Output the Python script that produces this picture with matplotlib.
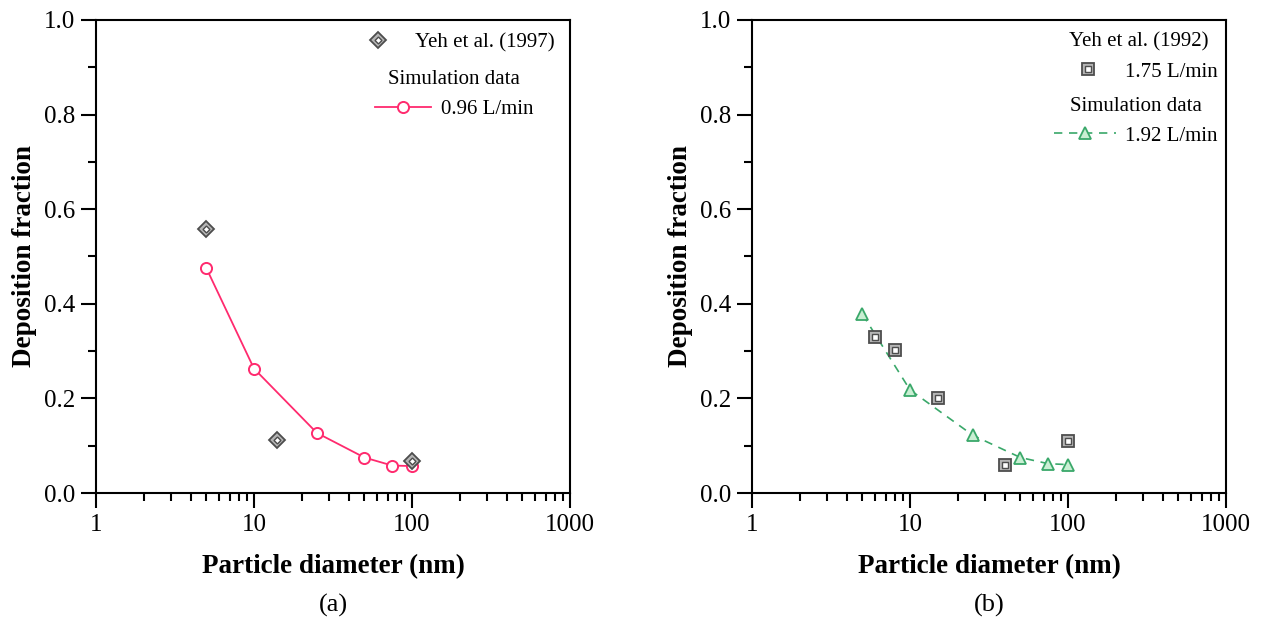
import matplotlib
matplotlib.use("Agg")
import matplotlib.pyplot as plt
from matplotlib.legend_handler import HandlerTuple
from matplotlib.ticker import MultipleLocator, LogLocator, NullFormatter, FixedLocator

plt.rcParams['font.family'] = ['Liberation Serif', 'DejaVu Serif']

# panel (a)
yeh97_d = [5, 14, 100]
yeh97_f = [0.558, 0.113, 0.068]
sim_a_d = [5, 10, 25, 50, 75, 100]
sim_a_f = [0.475, 0.263, 0.127, 0.075, 0.058, 0.057]

# panel (b)
yeh92_d = [6, 8, 15, 40, 100]
yeh92_f = [0.330, 0.303, 0.200, 0.060, 0.110]
sim_b_d = [5, 10, 25, 50, 75, 100]
sim_b_f = [0.378, 0.218, 0.122, 0.075, 0.062, 0.060]

pink = '#ff2a6e'
green = '#3aa86a'
gray = '#4d4d4d'

fig = plt.figure(figsize=(12.68, 6.26), dpi=100)
ax1 = fig.add_axes([96 / 1268, 133 / 626, 474 / 1268, 473 / 626])
ax2 = fig.add_axes([752 / 1268, 133 / 626, 474 / 1268, 473 / 626])


def double_marker(ax, x, y, m, big, small):
    outer, = ax.plot(x, y, ls='none', marker=m, ms=big, mfc='#b5b5b5',
                     mec=gray, mew=1.3, zorder=4)
    inner, = ax.plot(x, y, ls='none', marker=m, ms=small, mfc='white',
                     mec=gray, mew=1.0, zorder=5)
    return (outer, inner)


def style(ax, letter):
    ax.set_xscale('log')
    ax.set_xlim(1, 1000)
    ax.set_ylim(0, 1.0)
    ax.xaxis.set_major_locator(FixedLocator([1, 10, 100, 1000]))
    ax.set_xticklabels(['1', '10', '100', '1000'])
    ax.xaxis.set_minor_locator(LogLocator(base=10, subs=range(2, 10)))
    ax.xaxis.set_minor_formatter(NullFormatter())
    ax.yaxis.set_major_locator(MultipleLocator(0.2))
    ax.yaxis.set_minor_locator(MultipleLocator(0.1))
    ax.set_yticklabels([f'{v:.1f}' for v in ax.get_yticks()])
    ax.tick_params(which='both', direction='out', width=1.5, labelsize=18,
                   top=False, right=False, pad=4)
    ax.tick_params(which='major', length=11)
    ax.tick_params(which='minor', length=6)
    for s in ax.spines.values():
        s.set_linewidth(1.5)
    ax.set_xlabel('Particle diameter (nm)', fontsize=19.5, fontweight='bold',
                  labelpad=13)
    ax.set_ylabel('Deposition fraction', fontsize=19.5, fontweight='bold',
                  labelpad=5)
    ax.text(0.5, -0.237, letter, transform=ax.transAxes, ha='center',
            va='center', fontsize=19)


# (a)
h_yeh97 = double_marker(ax1, yeh97_d, yeh97_f, 'D', 8, 3.5)
h_sim_a, = ax1.plot(sim_a_d, sim_a_f, color=pink, lw=1.3, marker='o', ms=8,
                    mfc='white', mec=pink, mew=1.4, zorder=3)
style(ax1, '(a)')
lg1 = ax1.legend([h_yeh97], ['Yeh et al. (1997)'], loc='center right',
                 bbox_to_anchor=(0.968, 0.953), frameon=False, fontsize=15,
                 borderpad=0, borderaxespad=0, handlelength=2.7,
                 handletextpad=0.45,
                 handler_map={tuple: HandlerTuple(ndivide=1)})
ax1.add_artist(lg1)
ax1.legend([h_sim_a], ['0.96 L/min'], title='Simulation data',
           title_fontsize=15, loc='center right',
           bbox_to_anchor=(0.922, 0.842), frameon=False, fontsize=15,
           borderpad=0, borderaxespad=0, handlelength=2.7,
           handletextpad=0.45)

# (b)
h_yeh92 = double_marker(ax2, yeh92_d, yeh92_f, 's', 9, 4)
h_sim_b, = ax2.plot(sim_b_d, sim_b_f, color=green, lw=1.2, ls=(0, (5, 4)),
                    marker='^', ms=9, mfc='#c9efd3', mec=green, mew=1.3,
                    zorder=3)
style(ax2, '(b)')
lg2 = ax2.legend([h_yeh92], ['1.75 L/min'], title='Yeh et al. (1992)',
                 title_fontsize=15, loc='center right',
                 bbox_to_anchor=(0.983, 0.922), frameon=False, fontsize=15,
                 borderpad=0, borderaxespad=0, handlelength=2.7,
                 handletextpad=0.45,
                 handler_map={tuple: HandlerTuple(ndivide=1)})
ax2.add_artist(lg2)
ax2.legend([h_sim_b], ['1.92 L/min'], title='Simulation data',
           title_fontsize=15, loc='center right',
           bbox_to_anchor=(0.983, 0.786), frameon=False, fontsize=15,
           borderpad=0, borderaxespad=0, handlelength=3.0,
           handletextpad=0.45)

fig.savefig('out.png', dpi=100)
